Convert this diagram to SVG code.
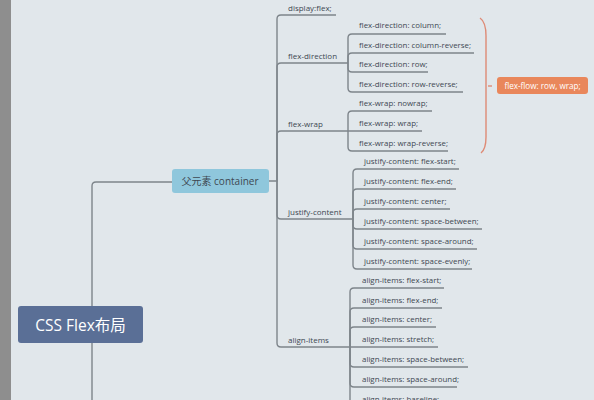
<svg xmlns="http://www.w3.org/2000/svg" width="594" height="400" viewBox="0 0 594 400">
<defs>
<style>
.bg{fill:#e1e7eb}
.strip{fill:#8e8e8e}
.c{fill:none;stroke:#7e858b;stroke-width:1.4}
.brace{fill:none;stroke:#de8b76;stroke-width:1.4}
.t{font-family:"Open Sans","Noto Sans","Noto Sans CJK SC",sans-serif;fill:#3e4852}
.m{font-size:8px}
.s{font-size:7.9px}
</style>
</defs>
<rect class="bg" x="0" y="0" width="594" height="400"/>
<rect class="strip" x="0" y="0" width="11" height="400"/>
<g id="connectors">
<path class="c" d="M92,400 V186 Q92,182 96,182 H172"/>
<path class="c" d="M269,181 H277 V19 Q277,15 281,15 H336"/>
<path class="c" d="M277,181 V67 Q277,63 281,63 H348"/>
<path class="c" d="M277,181 V135 Q277,131 281,131 H348"/>
<path class="c" d="M277,181 V215 Q277,219 281,219 H353"/>
<path class="c" d="M277,181 V343 Q277,347 281,347 H350"/>
<path class="c" d="M348,63 V38 Q348,34 352,34 H446"/>
<path class="c" d="M348,63 V57 Q348,53 352,53 H474"/>
<path class="c" d="M348,63 V68 Q348,72 352,72 H428"/>
<path class="c" d="M348,63 V88 Q348,92 352,92 H463"/>
<path class="c" d="M348,131 V115 Q348,111 352,111 H432"/>
<path class="c" d="M348,131 H422"/>
<path class="c" d="M348,131 V147 Q348,151 352,151 H448"/>
<path class="c" d="M353,219 V173 Q353,169 357,169 H459"/>
<path class="c" d="M353,219 V193 Q353,189 357,189 H456"/>
<path class="c" d="M353,219 V213 Q353,209 357,209 H450"/>
<path class="c" d="M353,219 V225 Q353,229 357,229 H482"/>
<path class="c" d="M353,219 V245 Q353,249 357,249 H477"/>
<path class="c" d="M353,219 V265 Q353,269 357,269 H472"/>
<path class="c" d="M350,347 V292 Q350,288 354,288 H444"/>
<path class="c" d="M350,347 V312 Q350,308 354,308 H442"/>
<path class="c" d="M350,347 V331 Q350,327 354,327 H436"/>
<path class="c" d="M350,347 H438"/>
<path class="c" d="M350,347 V363 Q350,367 354,367 H468"/>
<path class="c" d="M350,347 V383 Q350,387 354,387 H457"/>
<path class="c" d="M350,347 V403 Q350,407 354,407 H437"/>
<path class="brace" d="M480,18 Q486,22 486,36 V137 Q486,149 481,153"/>
<path class="brace" d="M488,86 H492"/>
</g>
<g id="root">
<rect x="18" y="306" width="125" height="37" rx="3" fill="#5a6f96"/>
<text class="t" x="80.5" y="330.5" text-anchor="middle" font-size="15.5" style="fill:#ffffff">CSS Flex布局</text>
</g>
<g id="container">
<rect x="172" y="169" width="97" height="24" rx="3" fill="#8fc7dc"/>
<text class="t" x="220" y="184.5" text-anchor="middle" font-size="10">父元素 container</text>
</g>
<g id="display-flex"><text class="t m" x="288" y="10.5">display:flex;</text></g>
<g id="flex-direction"><text class="t m" x="288" y="58.5">flex-direction</text></g>
<g id="flex-wrap"><text class="t m" x="288" y="126.5">flex-wrap</text></g>
<g id="justify-content"><text class="t m" x="288" y="214.5">justify-content</text></g>
<g id="align-items"><text class="t m" x="288" y="342.5">align-items</text></g>
<g id="fd-column"><text class="t s" x="359" y="28">flex-direction: column;</text></g>
<g id="fd-column-reverse"><text class="t s" x="359" y="47.5">flex-direction: column-reverse;</text></g>
<g id="fd-row"><text class="t s" x="359" y="66.5">flex-direction: row;</text></g>
<g id="fd-row-reverse"><text class="t s" x="359" y="86.5">flex-direction: row-reverse;</text></g>
<g id="fw-nowrap"><text class="t s" x="359" y="105.5">flex-wrap: nowrap;</text></g>
<g id="fw-wrap"><text class="t s" x="359" y="125.5">flex-wrap: wrap;</text></g>
<g id="fw-wrap-reverse"><text class="t s" x="359" y="145.5">flex-wrap: wrap-reverse;</text></g>
<g id="flex-flow">
<rect x="497" y="77" width="91" height="17" rx="3" fill="#e9875b"/>
<text class="t" x="542.5" y="88.5" text-anchor="middle" font-size="8.1" style="fill:#ffffff">flex-flow: row, wrap;</text>
</g>
<g id="jc-flex-start"><text class="t s" x="364" y="163.5">justify-content: flex-start;</text></g>
<g id="jc-flex-end"><text class="t s" x="364" y="183.5">justify-content: flex-end;</text></g>
<g id="jc-center"><text class="t s" x="364" y="203.5">justify-content: center;</text></g>
<g id="jc-space-between"><text class="t s" x="364" y="223.5">justify-content: space-between;</text></g>
<g id="jc-space-around"><text class="t s" x="364" y="243.5">justify-content: space-around;</text></g>
<g id="jc-space-evenly"><text class="t s" x="364" y="263.5">justify-content: space-evenly;</text></g>
<g id="ai-flex-start"><text class="t s" x="362" y="282.5">align-items: flex-start;</text></g>
<g id="ai-flex-end"><text class="t s" x="362" y="302.5">align-items: flex-end;</text></g>
<g id="ai-center"><text class="t s" x="362" y="321.5">align-items: center;</text></g>
<g id="ai-stretch"><text class="t s" x="362" y="341.5">align-items: stretch;</text></g>
<g id="ai-space-between"><text class="t s" x="362" y="361.5">align-items: space-between;</text></g>
<g id="ai-space-around"><text class="t s" x="362" y="381.5">align-items: space-around;</text></g>
<g id="ai-baseline"><text class="t s" x="362" y="401.5">align-items: baseline;</text></g>
</svg>
